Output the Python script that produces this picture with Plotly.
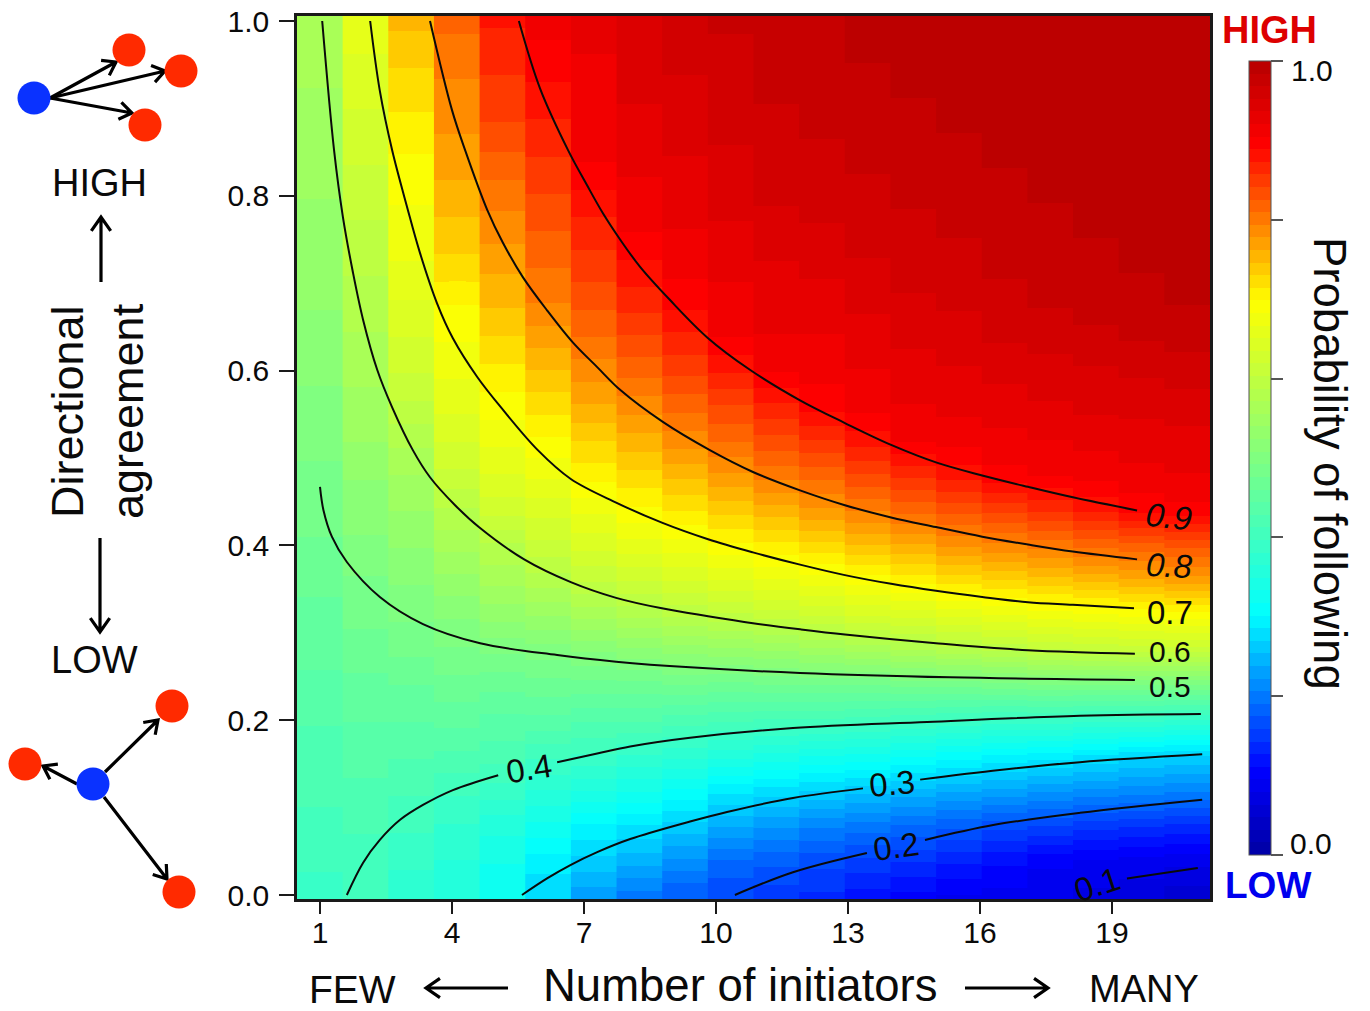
import plotly.graph_objects as go

W, H = 1370, 1011
PLOT_L, PLOT_R, PLOT_T, PLOT_B = 297, 1210, 16, 899

# Row positions (directional agreement)
agreement = [0.00, 0.04, 0.08, 0.12, 0.16, 0.20, 0.24, 0.28, 0.32, 0.36, 0.40, 0.44, 0.48,
             0.52, 0.56, 0.60, 0.64, 0.68, 0.72, 0.76, 0.80, 0.84, 0.88, 0.92, 0.96, 1.00]

# Probability of following, one list per image column, read bottom to top
col01 = [.39, .40, .41, .415, .42, .43, .44, .45, .455, .465, .475, .48, .49, .495, .505, .51, .52, .525, .53, .535, .54, .545, .55, .555, .56, .565]
col02 = [.40, .405, .415, .425, .435, .445, .455, .47, .48, .49, .505, .515, .525, .54, .55, .56, .57, .58, .59, .60, .61, .62, .63, .64, .65, .66]
col03 = [.37, .385, .40, .415, .43, .445, .46, .48, .495, .51, .525, .54, .555, .575, .60, .62, .635, .65, .665, .675, .685, .695, .71, .72, .735, .75]
col04 = [.35, .365, .38, .40, .425, .45, .47, .49, .51, .535, .56, .585, .615, .635, .655, .67, .685, .70, .725, .74, .755, .77, .78, .79, .80, .815]
col05 = [.32, .335, .355, .39, .42, .44, .465, .495, .53, .56, .585, .625, .65, .67, .69, .71, .73, .75, .765, .785, .80, .82, .84, .85, .865, .875]
col06 = [.27, .295, .33, .365, .40, .44, .47, .50, .54, .58, .615, .64, .67, .695, .72, .745, .77, .795, .81, .825, .84, .855, .87, .885, .90, .91]
col07 = [.23, .265, .30, .35, .395, .43, .47, .51, .56, .605, .64, .67, .705, .73, .76, .785, .81, .83, .85, .865, .885, .905, .91, .915, .92, .93]
col08 = [.20, .245, .285, .335, .38, .43, .47, .52, .575, .62, .66, .695, .725, .755, .785, .815, .84, .865, .885, .905, .915, .925, .93, .94, .945, .95]
col09 = [.175, .22, .265, .315, .37, .42, .475, .53, .59, .635, .675, .715, .75, .785, .815, .845, .87, .895, .91, .92, .93, .935, .945, .95, .955, .96]
col10 = [.16, .19, .24, .29, .355, .415, .47, .535, .60, .65, .695, .735, .775, .81, .84, .875, .905, .915, .925, .935, .94, .95, .955, .96, .965, .97]
col11 = [.15, .18, .225, .28, .345, .41, .475, .54, .61, .665, .71, .755, .80, .835, .87, .905, .92, .93, .935, .945, .955, .96, .965, .97, .97, .975]
col12 = [.14, .165, .21, .27, .335, .41, .475, .55, .62, .675, .725, .775, .815, .855, .895, .91, .92, .93, .94, .95, .96, .965, .97, .975, .98, .98]
col13 = [.12, .155, .20, .26, .33, .405, .475, .56, .635, .69, .745, .795, .84, .88, .91, .92, .93, .94, .95, .96, .965, .97, .975, .98, .985, .985]
col14 = [.107, .145, .19, .25, .32, .40, .48, .57, .64, .705, .76, .815, .86, .905, .92, .93, .94, .95, .96, .965, .97, .975, .98, .985, .985, .99]
col15 = [.095, .13, .18, .24, .31, .395, .48, .58, .655, .72, .78, .83, .88, .91, .925, .935, .945, .955, .96, .97, .975, .98, .985, .985, .99, .99]
col16 = [.09, .115, .165, .235, .30, .39, .485, .59, .665, .73, .79, .845, .90, .915, .93, .94, .955, .965, .97, .975, .98, .985, .985, .99, .99, .99]
col17 = [.08, .10, .16, .225, .295, .39, .49, .60, .675, .74, .80, .86, .905, .92, .935, .945, .96, .97, .975, .98, .985, .985, .99, .99, .99, .99]
col18 = [.075, .095, .15, .22, .285, .385, .49, .605, .68, .75, .815, .875, .91, .925, .94, .95, .965, .975, .98, .985, .985, .99, .99, .99, .995, .995]
col19 = [.07, .09, .145, .215, .275, .385, .49, .61, .685, .76, .82, .895, .915, .93, .94, .955, .97, .98, .985, .985, .99, .99, .99, .995, .995, .995]
col20 = [.055, .085, .14, .21, .27, .38, .49, .61, .69, .77, .83, .90, .92, .93, .945, .96, .975, .985, .985, .99, .99, .99, .995, .995, .995, 1.0]
columns = [col01, col02, col03, col04, col05, col06, col07, col08, col09, col10,
           col11, col12, col13, col14, col15, col16, col17, col18, col19, col20]

# Contour lines (None marks the gap left for a label)
c90_x = [5.52, 6.0, 6.64, 7.07, 7.43, 7.82, 8.27, 8.95, 9.80, 10.77, 11.91, 12.93, 13.98, 15.0, 16.05, 17.09, 18.11, 19.57]
c90_y = [1.0, .923, .852, .812, .780, .750, .719, .681, .638, .601, .566, .540, .515, .495, .480, .467, .455, .440]
c80_x = [3.5, 4.0, 4.30, 4.80, 5.16, 5.61, 6.16, 6.75, 7.30, 7.82, 8.80, 9.86, 10.84, 11.91, 12.93, 13.98, 15.0, 16.05, 17.09, 18.11, 19.57]
c80_y = [1.0, .898, .852, .784, .746, .707, .669, .632, .604, .578, .541, .509, .484, .463, .446, .432, .421, .410, .401, .393, .384]
c70_x = [2.14, 2.36, 2.64, 2.98, 3.27, 3.66, 4.02, 4.57, 5.16, 5.95, 6.70, 7.73, 8.77, 9.82, 10.84, 11.91, 12.93, 13.98, 15.0, 16.05, 17.09, 18.11, 19.5]
c70_y = [1.0, .920, .852, .787, .735, .677, .637, .593, .555, .509, .476, .449, .426, .407, .392, .378, .366, .356, .348, .341, .335, .332, .328]
c60_x = [1.05, 1.32, 1.52, 1.75, 1.98, 2.30, 2.64, 3.11, 3.5, 4.07, 4.61, 5.64, 6.70, 7.73, 8.77, 9.82, 10.84, 11.91, 12.93, 15.0, 17.09, 19.52]
c60_y = [1.0, .852, .776, .712, .658, .601, .558, .509, .478, .446, .421, .384, .358, .340, .328, .319, .311, .304, .298, .288, .280, .276]
c50_x = [1.0, 1.08, 1.27, 1.61, 2.36, 3.34, 4.64, 6.39, 7.73, 9.41, 11.91, 15.32, 19.52]
c50_y = [.467, .440, .410, .381, .341, .310, .288, .2745, .267, .2605, .254, .249, .246]
c40_x = [1.61, 1.98, 2.36, 2.82, 3.34, 4.02, 5.05, None, 6.39, 7.30, 8.05, 9.41, 11.75, 14.80, 18.27, 21.02]
c40_y = [0.0, .037, .063, .086, .103, .120, .137, None, .152, .162, .170, .180, .191, .198, .205, .207]
c30_x = [5.59, 6.16, 6.68, 7.30, 8.05, 9.41, 10.25, 11.75, 13.34, None, 14.64, 16.45, 18.27, 21.05]
c30_y = [0.0, .019, .034, .049, .064, .084, .095, .111, .122, None, .132, .143, .152, .161]
c20_x = [10.43, 11.75, 13.43, None, 14.75, 16.30, 18.27, 21.05]
c20_y = [0.0, .026, .048, None, .063, .080, .094, .109]
c10_x = [19.34, 20.95]
c10_y = [.019, .031]
contours = [(c90_x, c90_y), (c80_x, c80_y), (c70_x, c70_y), (c60_x, c60_y), (c50_x, c50_y),
            (c40_x, c40_y), (c30_x, c30_y), (c20_x, c20_y), (c10_x, c10_y)]

x_ticks = [1, 4, 7, 10, 13, 16, 19]
y_ticks = [0.0, 0.2, 0.4, 0.6, 0.8, 1.0]
bar_ticks = [0.0, 0.2, 0.4, 0.6, 0.8, 1.0]

# Colour map stops: value, (r, g, b)
cmap_stops = [(0.0, (0, 0, 170)), (0.1, (0, 0, 255)), (0.3, (0, 255, 255)), (0.5, (128, 255, 128)),
              (0.7, (255, 255, 0)), (0.9, (255, 0, 0)), (1.0, (188, 0, 0))]
N_STEPS = 63


def cmap(v):
    for (a, ca), (b, cb) in zip(cmap_stops, cmap_stops[1:]):
        if v <= b:
            t = (v - a) / (b - a)
            return "rgb(%d,%d,%d)" % tuple(round(p + (q - p) * t) for p, q in zip(ca, cb))
    return "rgb(188,0,0)"


stepped = []
for i in range(N_STEPS):
    c = cmap(i / (N_STEPS - 1))
    stepped += [[i / N_STEPS, c], [(i + 1) / N_STEPS, c]]


def px_x(p):
    return p / W


def px_y(p):
    return 1 - p / H


X_LO = 1 + (PLOT_L - 320) / 44
X_HI = 1 + (PLOT_R - 320) / 44
Y_LO = (895 - PLOT_B) / 874
Y_HI = (895 - PLOT_T) / 874
col_w = (X_HI - X_LO) / len(columns)

fig = go.Figure()
for k, col in enumerate(columns):
    l = X_LO + k * col_w
    r = l + col_w + (0.03 if k < len(columns) - 1 else 0)
    fig.add_trace(go.Heatmap(x=[l, (l + r) / 2, r], y=agreement, z=[[v, v] for v in col],
                             coloraxis="coloraxis", zsmooth="best", hoverinfo="skip"))
for cx, cy in contours:
    fig.add_trace(go.Scatter(x=cx, y=cy, mode="lines", hoverinfo="skip", showlegend=False,
                             line=dict(color="#0a0a0a", width=2, shape="spline", smoothing=1.0)))

FONT = "Liberation Sans"


def text(s, x, y, size, angle=0, color="#0a0a0a", bold=False):
    fig.add_annotation(x=px_x(x), y=px_y(y), xref="paper", yref="paper", text=f"<b>{s}</b>" if bold else s,
                       showarrow=False, textangle=angle, xanchor="center", yanchor="middle",
                       font=dict(family=FONT, size=size, color=color))


def arrow(x0, y0, x1, y1, head=15, w=3.2):
    dx, dy = x1 - x0, y1 - y0
    n = (dx * dx + dy * dy) ** 0.5
    ux, uy = dx / n, dy / n
    ax, ay = x1 - head * (ux * 0.82 - uy * 0.57), y1 - head * (uy * 0.82 + ux * 0.57)
    bx, by = x1 - head * (ux * 0.82 + uy * 0.57), y1 - head * (uy * 0.82 - ux * 0.57)
    P = lambda a, b: f"{px_x(a):.5f},{px_y(b):.5f}"
    path = f"M{P(x0, y0)} L{P(x1, y1)} M{P(ax, ay)} L{P(x1, y1)} L{P(bx, by)}"
    fig.add_shape(type="path", path=path, xref="paper", yref="paper", line=dict(color="#000", width=w),
                  fillcolor="rgba(0,0,0,0)")


def dot(x, y, color, r=16.5):
    fig.add_shape(type="circle", xref="paper", yref="paper", x0=px_x(x - r), x1=px_x(x + r),
                  y0=px_y(y + r), y1=px_y(y - r), fillcolor=color, line=dict(width=0))


RED, BLUE = "#ff2a00", "#0a32ff"
arrow(50, 98, 116, 62); arrow(50, 98, 165, 71); arrow(50, 98, 132, 113)
arrow(105, 772, 158, 720); arrow(77, 784, 43, 766); arrow(104, 797, 167, 879)
for x, y in [(129, 50), (181, 71), (145, 125), (172, 706), (25, 764), (179, 892)]:
    dot(x, y, RED)
dot(34, 98, BLUE); dot(93, 784, BLUE)
arrow(101, 282, 101, 217, head=17); arrow(100, 538, 100, 632, head=17)
arrow(508, 988, 426, 988, head=17); arrow(965, 988, 1048, 988, head=17)

text("HIGH", 100, 183, 38); text("LOW", 94, 660, 38)
text("Directional", 68, 412, 45, angle=-90); text("agreement", 128, 411, 45, angle=-90)
text("FEW", 352, 989, 39); text("Number of initiators", 740, 985, 45.5); text("MANY", 1144, 989, 38)
text("Probability of following", 1330, 463, 45.5, angle=90)
text("HIGH", 1269, 30, 38, color="#dd0000", bold=True); text("LOW", 1268, 885, 37, color="#0000ee", bold=True)
text("1.0", 1312, 70, 30); text("0.0", 1311, 843, 30)
for s, x, y, a, sz in [("<i>0.9</i>", 1169, 516, 6, 33), ("<i>0.8</i>", 1169, 565, 3, 33), ("0.7", 1170, 612, 0, 33),
                       ("0.6", 1170, 651, 0, 30), ("0.5", 1170, 686, 0, 30), ("0.4", 529, 768, -9, 33),
                       ("0.3", 892, 783, -5, 33), ("0.2", 896, 846, -8, 33), ("0.1", 1097, 884, -18, 33)]:
    text(s, x, y, sz, angle=a)

axis_common = dict(showgrid=False, zeroline=False, showline=True, mirror=True, linecolor="#1a1a1a", linewidth=2.5,
                   ticks="outside", tickwidth=2, tickcolor="#1a1a1a",
                   tickfont=dict(family=FONT, size=30, color="#0a0a0a"))
fig.update_layout(
    width=W, height=H, margin=dict(l=0, r=0, t=0, b=0, autoexpand=False), paper_bgcolor="white", plot_bgcolor="white",
    showlegend=False, font=dict(family=FONT),
    xaxis=dict(domain=[PLOT_L / W, PLOT_R / W], range=[X_LO, X_HI], tickvals=x_ticks, ticklen=12,
               ticklabelstandoff=-7, **axis_common),
    yaxis=dict(domain=[1 - PLOT_B / H, 1 - PLOT_T / H], range=[Y_LO, Y_HI], tickvals=y_ticks, ticklen=15,
               tickformat=".1f", ticklabelstandoff=4, **axis_common),
    coloraxis=dict(cmin=0, cmax=1, colorscale=stepped, colorbar=dict(
        thickness=22, thicknessmode="pixels", len=794, lenmode="pixels", x=1249 / W, xanchor="left",
        y=1 - 855 / H, yanchor="bottom", xpad=0, ypad=0, outlinewidth=1, outlinecolor="#555555",
        tickmode="array", tickvals=bar_ticks, ticks="outside", ticklen=12, tickcolor="#555555", tickwidth=2,
        showticklabels=False)),
)
fig.write_html("out.html", config={"displayModeBar": False},
               post_script="document.body.style.margin='0';document.body.style.overflow='hidden';window.dispatchEvent(new Event('resize'));")
